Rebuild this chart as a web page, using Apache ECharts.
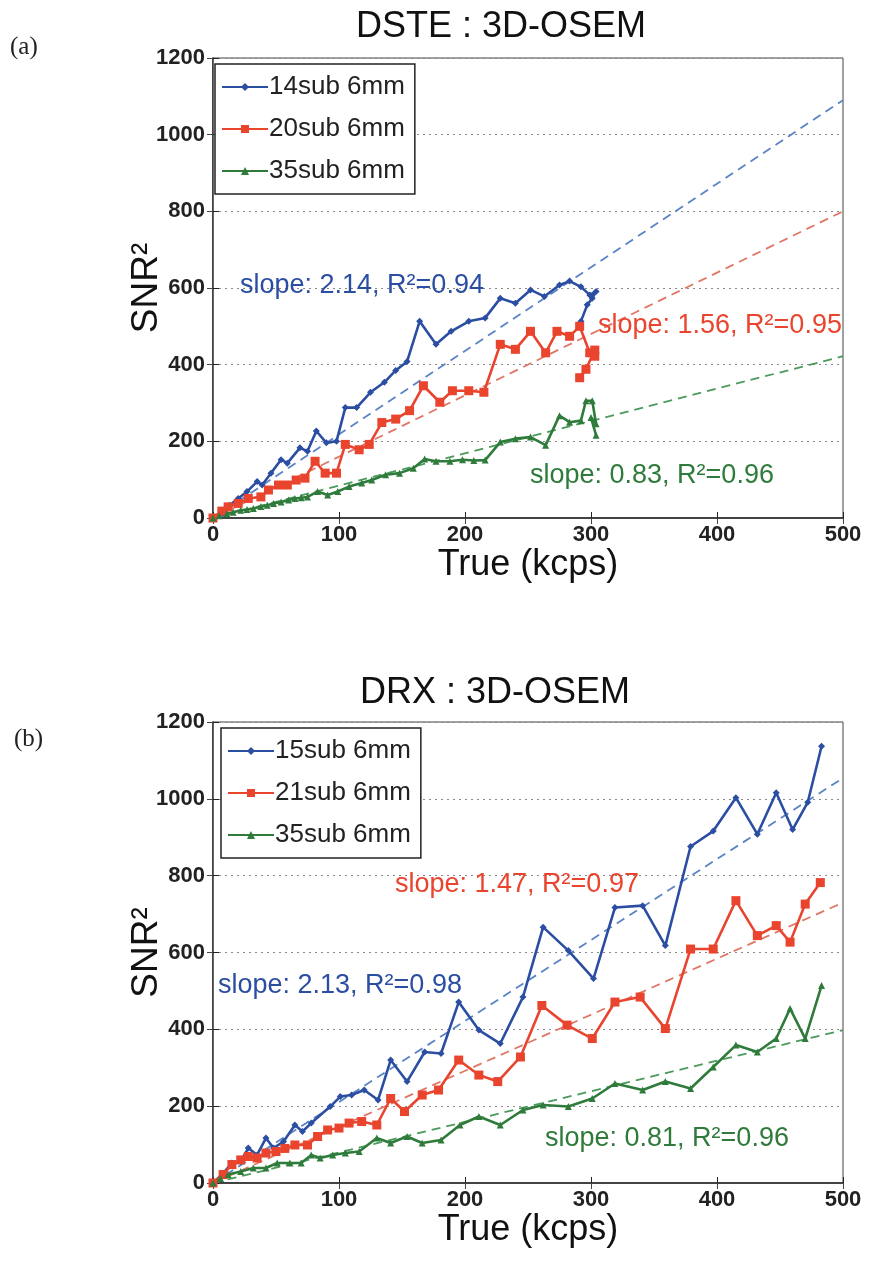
<!DOCTYPE html>
<html>
<head>
<meta charset="utf-8">
<script src="https://cdn.jsdelivr.net/npm/echarts@6/dist/echarts.min.js"></script>
<style>
  html, body { margin: 0; padding: 0; background: #fff; }
  #chart { width: 875px; height: 1270px; }
</style>
</head>
<body>
<div id="chart"></div>
<script>
// (a) DSTE : 3D-OSEM  -- [True kcps, SNR^2]
const dste14 = [[0,0],[8,11],[13,33],[20,51],[27,69],[35,95],[39,86],[46,117],[54,152],[59,143],[69,183],[75,174],[82,227],[90,196],[98,200],[105,288],[114,288],[125,328],[136,354],[145,385],[154,408],[164,513],[177,453],[189,487],[203,513],[216,522],[228,573],[240,560],[252,595],[263,578],[275,608],[283,618],[292,603],[299,582],[304,591],[301,573],[297,556],[292,513]];
const dste20 = [[0,0],[7,18],[12,29],[20,38],[28,51],[38,55],[44,73],[52,86],[59,86],[66,99],[73,104],[81,148],[89,117],[98,117],[105,192],[116,178],[124,192],[134,249],[145,258],[156,280],[167,345],[180,302],[190,332],[203,332],[215,328],[228,453],[240,440],[252,487],[264,431],[273,487],[283,474],[291,500],[299,431],[303,422],[303,438],[296,388],[291,366]];
const dste35 = [[0,0],[5,6],[11,11],[16,15],[22,20],[27,22],[32,25],[38,30],[43,33],[48,38],[54,42],[60,47],[65,51],[70,53],[75,55],[83,69],[91,60],[99,69],[108,82],[118,91],[126,99],[137,113],[148,117],[159,130],[168,154],[177,148],[188,148],[198,152],[207,150],[216,151],[228,198],[240,207],[252,211],[264,190],[275,267],[283,250],[292,254],[296,306],[301,306],[304,246],[300,262],[304,216]];
const dsteFit14 = [[0,0],[500,1090]];
const dsteFit20 = [[0,0],[500,800]];
const dsteFit35 = [[0,0],[500,422]];

// (b) DRX : 3D-OSEM
const drx15 = [[0,0],[8,25],[15,52],[22,56],[28,91],[35,73],[42,117],[48,91],[56,108],[65,151],[71,134],[78,156],[93,199],[101,225],[110,229],[120,242],[131,216],[141,320],[154,264],[168,341],[181,337],[195,471],[211,398],[228,363],[246,484],[262,666],[282,605],[302,532],[319,717],[341,722],[359,618],[379,876],[397,916],[415,1003],[432,908],[447,1016],[460,920],[472,991],[483,1137]];
const drx21 = [[0,0],[8,22],[15,48],[22,60],[28,69],[35,65],[42,78],[50,82],[57,90],[65,99],[75,99],[83,121],[91,138],[100,143],[108,156],[118,160],[130,151],[141,220],[152,186],[166,229],[179,242],[195,320],[211,281],[226,264],[244,328],[261,462],[281,411],[301,376],[319,471],[339,484],[359,402],[379,609],[397,609],[415,735],[432,644],[447,670],[458,627],[470,726],[482,782]];
const drx35 = [[0,0],[6,12],[12,22],[22,30],[32,39],[42,39],[51,52],[61,52],[70,52],[78,73],[85,65],[95,73],[105,78],[116,82],[130,117],[141,104],[154,121],[166,104],[181,112],[196,151],[211,173],[228,151],[246,190],[262,203],[282,199],[301,220],[319,259],[341,242],[359,264],[379,246],[397,302],[415,359],[432,341],[447,376],[458,454],[470,376],[483,514]];
const drxFit15 = [[0,0],[500,1054]];
const drxFit21 = [[0,0],[500,730]];
const drxFit35 = [[0,0],[500,398]];

const xTicks = [0, 100, 200, 300, 400, 500];
const yTicks = [0, 200, 400, 600, 800, 1000, 1200];

const BLUE = '#2b4ea2', RED = '#e9442e', GREEN = '#2f7b3b';
const BLUE_FIT = '#5a84c4', RED_FIT = '#e07766', GREEN_FIT = '#4b9a5c';
const FONT = 'Liberation Sans';

const chart = echarts.init(document.getElementById('chart'));

function xAx(gridIndex) {
  return {
    type: 'value', gridIndex: gridIndex, min: xTicks[0], max: xTicks[xTicks.length - 1], interval: 100,
    name: 'True (kcps)', nameLocation: 'middle', nameGap: 25,
    nameTextStyle: { fontFamily: FONT, fontSize: 36, color: '#111' },
    axisLine: { lineStyle: { color: '#222', width: 1.5 } },
    axisTick: { inside: true, length: 6, lineStyle: { color: '#222' } },
    axisLabel: { fontFamily: FONT, fontWeight: 'bold', fontSize: 22, color: '#222', margin: 6 },
    splitLine: { show: false }
  };
}
function xTop(gridIndex) {
  return {
    type: 'value', gridIndex: gridIndex, position: 'top', min: 0, max: 500, interval: 100,
    axisLine: { lineStyle: { color: '#444', width: 1 } },
    axisTick: { inside: true, length: 6, lineStyle: { color: '#444' } },
    axisLabel: { show: false }, splitLine: { show: false }
  };
}
function yAx(gridIndex) {
  return {
    type: 'value', gridIndex: gridIndex, min: yTicks[0], max: yTicks[yTicks.length - 1], interval: 200,
    name: 'SNR²', nameLocation: 'middle', nameGap: 48, nameRotate: 90, nameMoveOverlap: false,
    nameTextStyle: { fontFamily: FONT, fontSize: 37, color: '#111' },
    axisLine: { lineStyle: { color: '#222', width: 1.5 } },
    axisTick: { inside: true, length: 6, lineStyle: { color: '#222' } },
    axisLabel: { fontFamily: FONT, fontWeight: 'bold', fontSize: 22, color: '#222', margin: 8, formatter: v => String(v) },
    splitLine: { show: true, lineStyle: { color: '#888', type: [2, 4], width: 1.2 } }
  };
}
function yRight(gridIndex) {
  return {
    type: 'value', gridIndex: gridIndex, position: 'right', min: 0, max: 1200, interval: 200,
    axisLine: { lineStyle: { color: '#666', width: 1 } },
    axisTick: { inside: true, length: 6, lineStyle: { color: '#444' } },
    axisLabel: { show: false }, splitLine: { show: false }
  };
}

function dataLine(name, data, color, symbol, size, axis) {
  return {
    name: name, type: 'line', data: data, xAxisIndex: axis, yAxisIndex: axis,
    symbol: symbol, symbolSize: size, showSymbol: true,
    lineStyle: { color: color, width: 2.6 }, itemStyle: { color: color },
    animation: false, z: 3
  };
}
function fitLine(data, color, axis) {
  return {
    type: 'line', data: data, xAxisIndex: axis, yAxisIndex: axis, symbol: 'none',
    lineStyle: { color: color, width: 1.8, type: [9, 6] }, animation: false, z: 2, silent: true
  };
}

function legend(names, left, top) {
  return {
    data: names, orient: 'vertical', left: left, top: top,
    backgroundColor: '#fff', borderColor: '#222', borderWidth: 1.5, borderRadius: 0,
    padding: [10, 10, 10, 6], itemGap: 16, itemWidth: 46, itemHeight: 10,
    textStyle: { fontFamily: FONT, fontSize: 26, color: '#222', padding: [0, 0, 0, -4] }
  };
}

function note(text, left, top, color) {
  return {
    type: 'text', left: left, top: top, z: 10,
    style: { text: text, fill: color, font: '27px "Liberation Sans"' }
  };
}

const titleStyle = { fontFamily: FONT, fontSize: 36, fontWeight: 'normal', color: '#111' };

chart.setOption({
  backgroundColor: '#fff',
  animation: false,
  title: [
    { text: 'DSTE : 3D-OSEM', left: 356, top: 9, padding: 0, textStyle: titleStyle },
    { text: 'DRX : 3D-OSEM', left: 360, top: 675, padding: 0, textStyle: titleStyle }
  ],
  legend: [legend(['14sub 6mm', '20sub 6mm', '35sub 6mm'], 215, 64), legend(['15sub 6mm', '21sub 6mm', '35sub 6mm'], 221, 728)],
  grid: [
    { left: 213, top: 58, width: 630, height: 460, show: true, borderColor: '#444', borderWidth: 1 },
    { left: 213, top: 722, width: 630, height: 461, show: true, borderColor: '#444', borderWidth: 1 }
  ],
  xAxis: [xAx(0), xAx(1), xTop(0), xTop(1)],
  yAxis: [yAx(0), yAx(1), yRight(0), yRight(1)],
  graphic: [
    note('slope: 2.14, R²=0.94', 240, 272, BLUE),
    note('slope: 1.56, R²=0.95', 598, 312, RED),
    note('slope: 0.83, R²=0.96', 530, 462, GREEN),
    note('slope: 1.47, R²=0.97', 395, 871, RED),
    note('slope: 2.13, R²=0.98', 218, 972, BLUE),
    note('slope: 0.81, R²=0.96', 545, 1125, GREEN),
    { type: 'text', left: 10, top: 35, style: { text: '(a)', fill: '#222', font: '25px "Liberation Serif"' } },
    { type: 'text', left: 14, top: 727, style: { text: '(b)', fill: '#222', font: '25px "Liberation Serif"' } }
  ],
  series: [
    fitLine(dsteFit14, BLUE_FIT, 0),
    fitLine(dsteFit20, RED_FIT, 0),
    fitLine(dsteFit35, GREEN_FIT, 0),
    dataLine('14sub 6mm', dste14, BLUE, 'diamond', 7, 0),
    dataLine('20sub 6mm', dste20, RED, 'rect', 9, 0),
    dataLine('35sub 6mm', dste35, GREEN, 'triangle', 7, 0),
    fitLine(drxFit15, BLUE_FIT, 1),
    fitLine(drxFit21, RED_FIT, 1),
    fitLine(drxFit35, GREEN_FIT, 1),
    dataLine('15sub 6mm', drx15, BLUE, 'diamond', 7, 1),
    dataLine('21sub 6mm', drx21, RED, 'rect', 9, 1),
    dataLine('35sub 6mm', drx35, GREEN, 'triangle', 7, 1)
  ]
});
</script>
</body>
</html>
